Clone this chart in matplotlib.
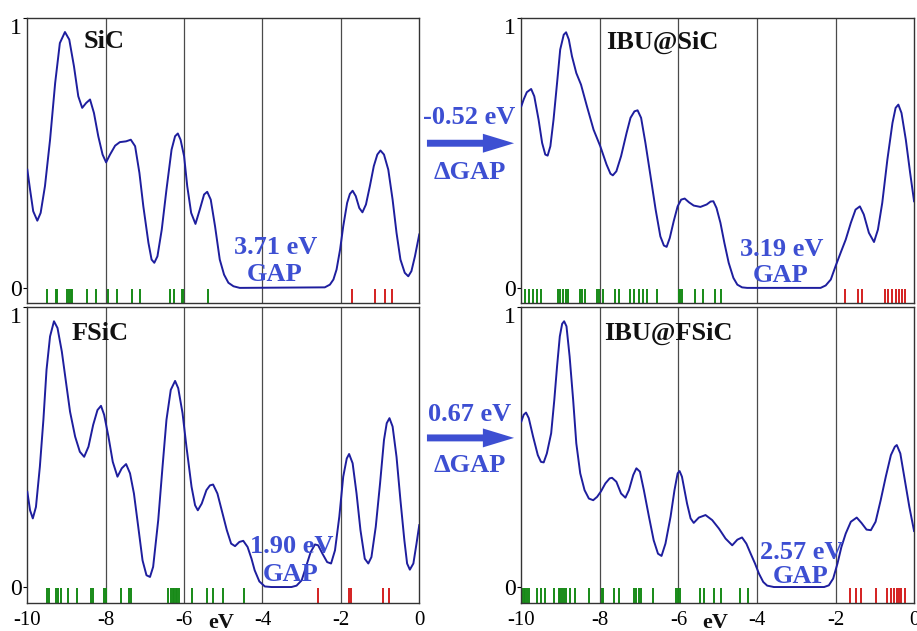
import matplotlib
matplotlib.use('Agg')
import matplotlib.pyplot as plt
from matplotlib.patches import FancyArrow

plt.rcParams['font.family'] = ['Liberation Serif', 'DejaVu Serif']

# ---- data ----
# SiC
sic_e = [-10, -9.93, -9.85, -9.745, -9.66, -9.55, -9.42, -9.29, -9.17, -9.04, -8.93, -8.81, -8.70,
         -8.60, -8.50, -8.40, -8.30, -8.19, -8.08, -7.99, -7.89, -7.76, -7.64, -7.48, -7.36, -7.25,
         -7.14, -7.04, -6.91, -6.83, -6.76, -6.68, -6.57, -6.45, -6.32, -6.23, -6.16, -6.09, -6.00,
         -5.92, -5.82, -5.71, -5.60, -5.49, -5.41, -5.32, -5.21, -5.09, -4.98, -4.87, -4.74, -4.58,
         -2.41, -2.28, -2.19, -2.11, -2.02, -1.94, -1.84, -1.77, -1.70, -1.62, -1.53, -1.45, -1.36,
         -1.26, -1.16, -1.07, -0.99, -0.90, -0.79, -0.68, -0.58, -0.48, -0.37, -0.28, -0.20, -0.11, 0]
sic_dos = [0.438, 0.364, 0.284, 0.249, 0.278, 0.377, 0.549, 0.759, 0.907, 0.948, 0.920, 0.821, 0.710,
           0.667, 0.685, 0.698, 0.648, 0.562, 0.494, 0.465, 0.494, 0.527, 0.540, 0.543, 0.549, 0.525,
           0.426, 0.302, 0.167, 0.105, 0.093, 0.117, 0.216, 0.364, 0.512, 0.562, 0.572, 0.549, 0.488,
           0.377, 0.278, 0.237, 0.290, 0.346, 0.356, 0.327, 0.228, 0.105, 0.049, 0.019, 0.006, 0.0,
           0.002, 0.012, 0.031, 0.068, 0.142, 0.228, 0.315, 0.348, 0.360, 0.340, 0.296, 0.280, 0.309,
           0.377, 0.451, 0.494, 0.509, 0.494, 0.438, 0.327, 0.204, 0.105, 0.056, 0.043, 0.062, 0.117, 0.198]
sic_occ = [-9.507, -9.277, -9.243, -8.980, -8.937, -8.895, -8.852, -8.469, -8.257, -7.951, -7.704,
           -7.321, -7.126, -6.369, -6.259, -6.046, -6.029, -5.391]
sic_virt = [-1.709, -1.131, -0.876, -0.706]

# IBU@SiC
ibu_sic_e = [-10, -9.94, -9.86, -9.75, -9.67, -9.56, -9.47, -9.39, -9.33, -9.26, -9.18, -9.09, -9.01,
             -8.92, -8.86, -8.79, -8.71, -8.60, -8.48, -8.33, -8.16, -7.99, -7.83, -7.73, -7.67, -7.58,
             -7.46, -7.32, -7.22, -7.12, -7.04, -6.95, -6.84, -6.71, -6.58, -6.46, -6.37, -6.30, -6.22,
             -6.12, -6.02, -5.93, -5.84, -5.73, -5.61, -5.44, -5.28, -5.18, -5.11, -5.03, -4.93, -4.83,
             -4.72, -4.60, -4.50, -4.38, -4.25, -2.38, -2.25, -2.12, -2.00, -1.87, -1.74, -1.61, -1.49,
             -1.38, -1.28, -1.15, -1.02, -0.92, -0.81, -0.68, -0.55, -0.47, -0.40, -0.32, -0.21, -0.10, 0]
ibu_sic_dos = [0.673, 0.698, 0.725, 0.737, 0.710, 0.623, 0.537, 0.494, 0.490, 0.525, 0.623, 0.759, 0.883,
               0.938, 0.947, 0.920, 0.858, 0.796, 0.753, 0.673, 0.586, 0.525, 0.457, 0.423, 0.417, 0.432,
               0.488, 0.574, 0.630, 0.654, 0.658, 0.630, 0.537, 0.414, 0.290, 0.191, 0.157, 0.152, 0.185,
               0.247, 0.302, 0.327, 0.331, 0.317, 0.305, 0.300, 0.309, 0.320, 0.321, 0.296, 0.241, 0.167,
               0.093, 0.037, 0.012, 0.002, 0.0, 0.0, 0.009, 0.031, 0.080, 0.130, 0.179, 0.241, 0.290,
               0.302, 0.272, 0.204, 0.170, 0.216, 0.315, 0.475, 0.611, 0.667, 0.679, 0.648, 0.549, 0.426, 0.321]
ibu_sic_occ = [-9.898, -9.796, -9.694, -9.592, -9.490, -9.074, -9.006, -8.938, -8.870, -8.802,
               -8.496, -8.445, -8.386, -8.071, -8.020, -7.927, -7.621, -7.519, -7.239, -7.137,
               -7.009, -6.899, -6.797, -6.542, -5.981, -5.947, -5.913, -5.590, -5.378, -5.081, -4.928]
ibu_sic_virt = [-1.767, -1.419, -1.317, -0.748, -0.654, -0.552, -0.467, -0.382, -0.297, -0.238]

# FSiC
fsic_e = [-10, -9.93, -9.86, -9.78, -9.68, -9.59, -9.51, -9.42, -9.32, -9.23, -9.12, -9.01, -8.91,
          -8.78, -8.66, -8.55, -8.44, -8.32, -8.21, -8.12, -8.04, -7.93, -7.82, -7.70, -7.59, -7.48,
          -7.38, -7.28, -7.17, -7.06, -6.96, -6.87, -6.79, -6.66, -6.55, -6.45, -6.34, -6.23, -6.15,
          -6.04, -5.94, -5.81, -5.72, -5.65, -5.55, -5.43, -5.34, -5.26, -5.15, -5.04, -4.91, -4.80,
          -4.70, -4.59, -4.49, -4.38, -4.28, -4.20, -4.08, -3.94, -3.77, -3.26, -3.13, -3.00, -2.89,
          -2.77, -2.66, -2.58, -2.47, -2.35, -2.25, -2.15, -2.04, -1.94, -1.85, -1.79, -1.70, -1.60,
          -1.50, -1.39, -1.30, -1.22, -1.11, -1.00, -0.90, -0.83, -0.76, -0.68, -0.58, -0.48, -0.38,
          -0.31, -0.24, -0.15, -0.07, 0]
fsic_dos = [0.340, 0.274, 0.245, 0.286, 0.430, 0.597, 0.776, 0.895, 0.949, 0.925, 0.841, 0.728, 0.626,
            0.537, 0.483, 0.465, 0.501, 0.579, 0.632, 0.647, 0.615, 0.537, 0.447, 0.394, 0.424, 0.439,
            0.406, 0.334, 0.215, 0.095, 0.042, 0.036, 0.072, 0.239, 0.430, 0.597, 0.704, 0.736, 0.710,
            0.621, 0.501, 0.358, 0.292, 0.274, 0.298, 0.346, 0.363, 0.366, 0.334, 0.274, 0.203, 0.155,
            0.146, 0.161, 0.165, 0.143, 0.101, 0.060, 0.020, 0.002, 0.0, 0.0, 0.005, 0.024, 0.072,
            0.125, 0.152, 0.149, 0.119, 0.089, 0.084, 0.131, 0.251, 0.394, 0.459, 0.475, 0.442, 0.334,
            0.203, 0.101, 0.084, 0.107, 0.215, 0.370, 0.525, 0.585, 0.603, 0.573, 0.465, 0.310, 0.167,
            0.084, 0.062, 0.084, 0.155, 0.221]
fsic_occ = [-9.507, -9.456, -9.269, -9.209, -9.150, -8.954, -8.724, -8.376, -8.316, -8.036, -7.993,
            -7.611, -7.398, -7.364, -6.420, -6.344, -6.293, -6.259, -6.216, -6.173, -6.122, -5.791,
            -5.425, -5.255, -5.017, -4.464]
fsic_virt = [-2.577, -1.786, -1.752, -0.918, -0.765]

# IBU@FSiC
ibu_fsic_e = [-10, -9.94, -9.88, -9.81, -9.70, -9.58, -9.50, -9.43, -9.35, -9.24, -9.16, -9.09, -9.02,
              -8.96, -8.91, -8.85, -8.77, -8.68, -8.60, -8.50, -8.39, -8.28, -8.17, -8.07, -7.97, -7.86,
              -7.75, -7.69, -7.58, -7.46, -7.35, -7.26, -7.15, -7.07, -6.98, -6.88, -6.75, -6.63, -6.52,
              -6.43, -6.33, -6.20, -6.10, -6.02, -5.97, -5.91, -5.78, -5.69, -5.61, -5.48, -5.31, -5.14,
              -4.97, -4.80, -4.63, -4.50, -4.38, -4.27, -4.16, -4.05, -3.95, -3.84, -3.74, -3.57, -2.29,
              -2.17, -2.06, -1.95, -1.85, -1.74, -1.61, -1.46, -1.34, -1.21, -1.10, -0.98, -0.85, -0.72,
              -0.59, -0.49, -0.44, -0.35, -0.25, -0.12, 0]
ibu_fsic_dos = [0.591, 0.615, 0.623, 0.603, 0.537, 0.471, 0.447, 0.445, 0.477, 0.549, 0.668, 0.788, 0.895,
                0.940, 0.949, 0.931, 0.823, 0.668, 0.513, 0.406, 0.346, 0.316, 0.310, 0.322, 0.342, 0.370,
                0.388, 0.390, 0.376, 0.334, 0.319, 0.346, 0.400, 0.424, 0.412, 0.346, 0.251, 0.167, 0.119,
                0.111, 0.155, 0.251, 0.346, 0.406, 0.414, 0.394, 0.298, 0.245, 0.229, 0.248, 0.257, 0.239,
                0.209, 0.173, 0.149, 0.169, 0.177, 0.155, 0.119, 0.084, 0.048, 0.018, 0.005, 0.0, 0.0,
                0.006, 0.030, 0.084, 0.143, 0.191, 0.233, 0.248, 0.229, 0.205, 0.203, 0.233, 0.310, 0.394,
                0.471, 0.501, 0.507, 0.477, 0.394, 0.286, 0.200]
ibu_fsic_occ = [-9.983, -9.941, -9.898, -9.847, -9.796, -9.601, -9.490, -9.388, -9.176, -9.048,
                -9.006, -8.963, -8.921, -8.870, -8.751, -8.624, -8.284, -7.944, -7.910, -7.630,
                -7.519, -7.137, -7.077, -7.009, -6.950, -6.644, -6.049, -6.007, -5.964, -5.438,
                -5.353, -5.098, -4.911, -4.435, -4.231]
ibu_fsic_virt = [-1.631, -1.487, -1.359, -0.977, -0.680, -0.595, -0.510, -0.425, -0.374, -0.323, -0.238]

titles = ['SiC', 'IBU@SiC', 'FSiC', 'IBU@FSiC']
gaps = ['3.71 eV', '3.19 eV', '1.90 eV', '2.57 eV']
delta_gaps = ['-0.52 eV', '0.67 eV']

# ---- style ----
c_line = '#1e1e9e'
c_text = '#3d4fd2'
c_occ = '#178a17'
c_virt = '#d42020'
c_grid = '#4a4a4a'

fig = plt.figure(figsize=(9.17, 6.31), dpi=100)

# [left, bottom, width, height] in figure fraction, ymin, data, title pos, gap text pos
panels = [
    ([0.0298, 0.5198, 0.4274, 0.4517], -0.056, sic_e, sic_dos, sic_occ, sic_virt,
     (-8.57, 0.914, 'left'), (-3.66, 0.148, 0.049)),
    ([0.5685, 0.5198, 0.4283, 0.4517], -0.056, ibu_sic_e, ibu_sic_dos, ibu_sic_occ, ibu_sic_virt,
     (-6.40, 0.91, 'center'), (-3.38, 0.144, 0.046)),
    ([0.0298, 0.0444, 0.4274, 0.4691], -0.057, fsic_e, fsic_dos, fsic_occ, fsic_virt,
     (-8.15, 0.907, 'center'), (-3.26, 0.146, 0.045)),
    ([0.5685, 0.0444, 0.4283, 0.4691], -0.057, ibu_fsic_e, ibu_fsic_dos, ibu_fsic_occ, ibu_fsic_virt,
     (-6.25, 0.907, 'center'), (-2.85, 0.125, 0.038)),
]

for i, (rect, ymin, e, dos, occ, virt, tpos, gpos) in enumerate(panels):
    ax = fig.add_axes(rect)
    ax.set_xlim(-10, 0)
    ax.set_ylim(ymin, 1.0)
    for xg in [-8, -6, -4, -2]:
        ax.axvline(xg, color=c_grid, lw=0.9, zorder=0)
    ax.plot(e, dos, color=c_line, lw=1.4, zorder=3, solid_joinstyle='round')
    ax.vlines(occ, ymin, -0.004, color=c_occ, lw=1.4)
    ax.vlines(virt, ymin, -0.004, color=c_virt, lw=1.4)
    for s in ax.spines.values():
        s.set_color('#333333')
        s.set_linewidth(1.0)
    ax.set_yticks([0, 1])
    ax.set_yticklabels(['0', '1'])
    ax.tick_params(axis='y', length=3, pad=1, labelsize=17)
    ax.get_yticklabels()[1].set_verticalalignment('top')
    if i >= 2:
        ax.set_xticks([-10, -8, -6, -4, -2, 0])
        ax.set_xticklabels(['-10', '-8', '-6', '-4', '-2', '0'])
        ax.tick_params(axis='x', length=0, pad=6, labelsize=15)
        ax.text(-5.05, ymin - 0.035, 'eV', ha='center', va='top', fontsize=16,
                fontweight='bold', color='#111111', clip_on=False)
    else:
        ax.set_xticks([])
    ax.text(tpos[0], tpos[1], titles[i], ha=tpos[2], va='center',
            fontsize=19, fontweight='bold', color='#111111')
    ax.text(gpos[0], gpos[1], gaps[i], ha='center', va='center', fontsize=19,
            fontweight='bold', color=c_text, zorder=4)
    ax.text(gpos[0] - 0.03, gpos[2], 'GAP', ha='center', va='center', fontsize=19,
            fontweight='bold', color=c_text, zorder=4)

# arrows between the columns
for label, y_lab, y_arr, y_dg in [(delta_gaps[0], 0.813, 0.773, 0.727),
                                  (delta_gaps[1], 0.343, 0.306, 0.263)]:
    fig.text(0.512, y_lab, label, ha='center', va='center', fontsize=19,
             fontweight='bold', color=c_text)
    fig.text(0.512, y_dg, '\u0394GAP', ha='center', va='center', fontsize=19,
             fontweight='bold', color=c_text)
    fig.add_artist(FancyArrow(0.4656, y_arr, 0.095, 0, width=0.011, head_width=0.03,
                              head_length=0.034, length_includes_head=True,
                              transform=fig.transFigure, color=c_text, lw=0))

plt.savefig('out.png', dpi=100, facecolor='white')
